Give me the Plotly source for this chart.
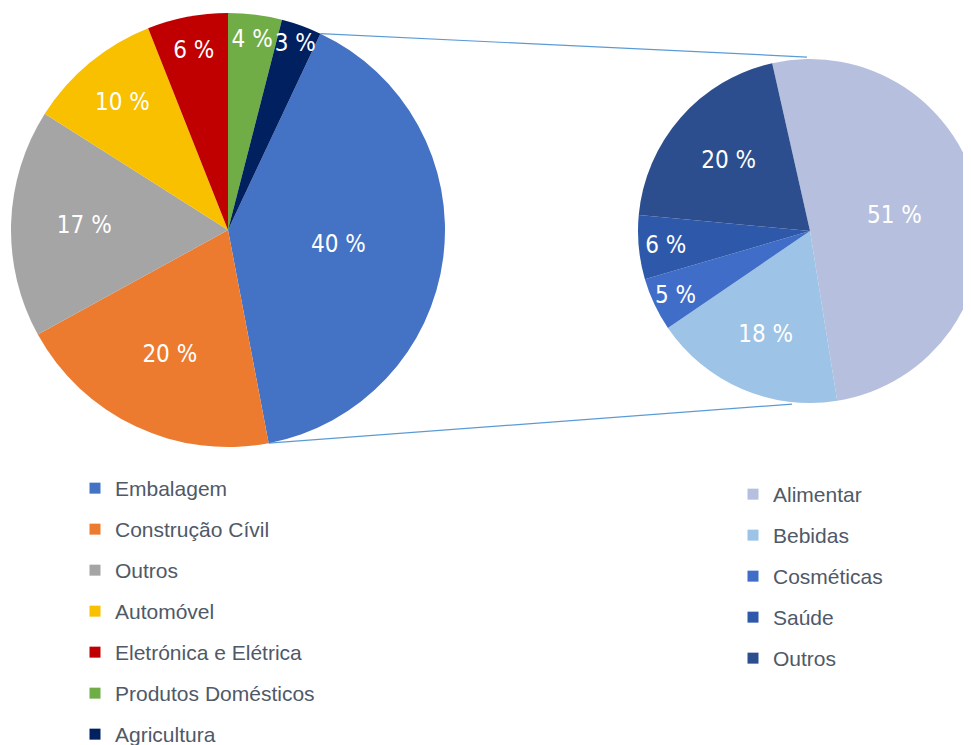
import math
import plotly.graph_objects as go

# ---------------- data ----------------
main_labels = ["Embalagem", "Construção Cívil", "Outros", "Automóvel",
               "Eletrónica e Elétrica", "Produtos Domésticos", "Agricultura"]
main_values = [40, 20, 17, 10, 6, 4, 3]
main_colors = ["#4472C4", "#EC7B30", "#A5A5A5", "#F9C000",
               "#C00000", "#70AD47", "#002060"]

sub_labels = ["Alimentar", "Bebidas", "Cosméticas", "Saúde", "Outros"]
sub_values = [51, 18, 5, 6, 20]
sub_colors = ["#B6BFDD", "#9DC3E6", "#3F6DC8", "#2E59AA", "#2D4E8E"]

# ---------------- layout geometry ----------------
# figure is a bit larger than the window; the page body adds an 8px offset
FW, FH = 990, 760
OFF = 8
cx1, cy1, R1 = 228 - OFF, 230 - OFF, 217
cx2, cy2, R2 = 810 - OFF, 231 - OFF, 172
rot1 = 25.2
rot2 = -12.7

PIE_FONT = "Liberation Sans Narrow, DejaVu Sans Condensed, Arial Narrow, sans-serif"
LEG_FONT = "Liberation Sans, Arial, sans-serif"

def dom(cx, cy, r):
    return dict(x=[(cx - r) / FW, (cx + r) / FW],
                y=[1 - (cy + r) / FH, 1 - (cy - r) / FH])

fig = go.Figure()

fig.add_trace(go.Pie(
    labels=main_labels, values=main_values, sort=False, direction="clockwise",
    rotation=rot1, marker=dict(colors=main_colors, line=dict(width=0)),
    texttemplate="%{value} %", textposition="inside",
    insidetextorientation="horizontal",
    textfont=dict(color="white", size=24, family=PIE_FONT),
    domain=dom(cx1, cy1, R1), showlegend=False, name="main"))

fig.add_trace(go.Pie(
    labels=sub_labels, values=sub_values, sort=False, direction="clockwise",
    rotation=rot2, marker=dict(colors=sub_colors, line=dict(width=0)),
    texttemplate="%{value} %", textposition="inside",
    insidetextorientation="horizontal",
    textfont=dict(color="white", size=24, family=PIE_FONT),
    domain=dom(cx2, cy2, R2), showlegend=False, name="sub"))

# legend entries (one group per item so the spacing can be set)
for lab, col in zip(main_labels, main_colors):
    fig.add_trace(go.Scatter(x=[None], y=[None], mode="markers", name=lab,
                             marker=dict(symbol="square", size=11, color=col),
                             legend="legend", legendgroup="m_" + lab))
for lab, col in zip(sub_labels, sub_colors):
    fig.add_trace(go.Scatter(x=[None], y=[None], mode="markers", name=lab,
                             marker=dict(symbol="square", size=11, color=col),
                             legend="legend2", legendgroup="s_" + lab))

# connector lines between the pies (from slice boundary angles)
a_start = math.radians(rot1)
a_end = math.radians(rot1 + 360 * main_values[0] / sum(main_values))
p1 = (cx1 + R1 * math.sin(a_start), cy1 - R1 * math.cos(a_start))
p2 = (cx1 + R1 * math.sin(a_end), cy1 - R1 * math.cos(a_end))
q1 = (cx2 + R2 * math.sin(math.radians(-1)), cy2 - R2 * math.cos(math.radians(-1)) - 2)
q2 = (cx2 + R2 * math.sin(math.radians(186)), cy2 - R2 * math.cos(math.radians(186)) + 2)
shapes = []
for (a, b) in [(p1, q1), (p2, q2)]:
    shapes.append(dict(type="line", xref="paper", yref="paper",
                       x0=a[0] / FW, y0=1 - a[1] / FH, x1=b[0] / FW, y1=1 - b[1] / FH,
                       line=dict(color="#5B9BD5", width=1.2), layer="below"))

leg_common = dict(font=dict(family=LEG_FONT, size=21, color="#4F5968"),
                  bgcolor="rgba(0,0,0,0)", tracegroupgap=10.7,
                  xanchor="left", yanchor="top", itemclick=False,
                  itemdoubleclick=False, maxheight=600)

fig.update_layout(
    width=FW, height=FH, autosize=False,
    margin=dict(l=0, r=0, t=0, b=0, autoexpand=False),
    paper_bgcolor="white", plot_bgcolor="white",
    xaxis=dict(visible=False), yaxis=dict(visible=False),
    shapes=shapes,
    uniformtext=dict(minsize=24, mode="show"),
    showlegend=True,
    legend=dict(x=(75 - OFF) / FW, y=1 - (468 - OFF) / FH, **leg_common),
    legend2=dict(x=(733 - OFF) / FW, y=1 - (474 - OFF) / FH, **leg_common),
)

fig.write_html("out.html")
